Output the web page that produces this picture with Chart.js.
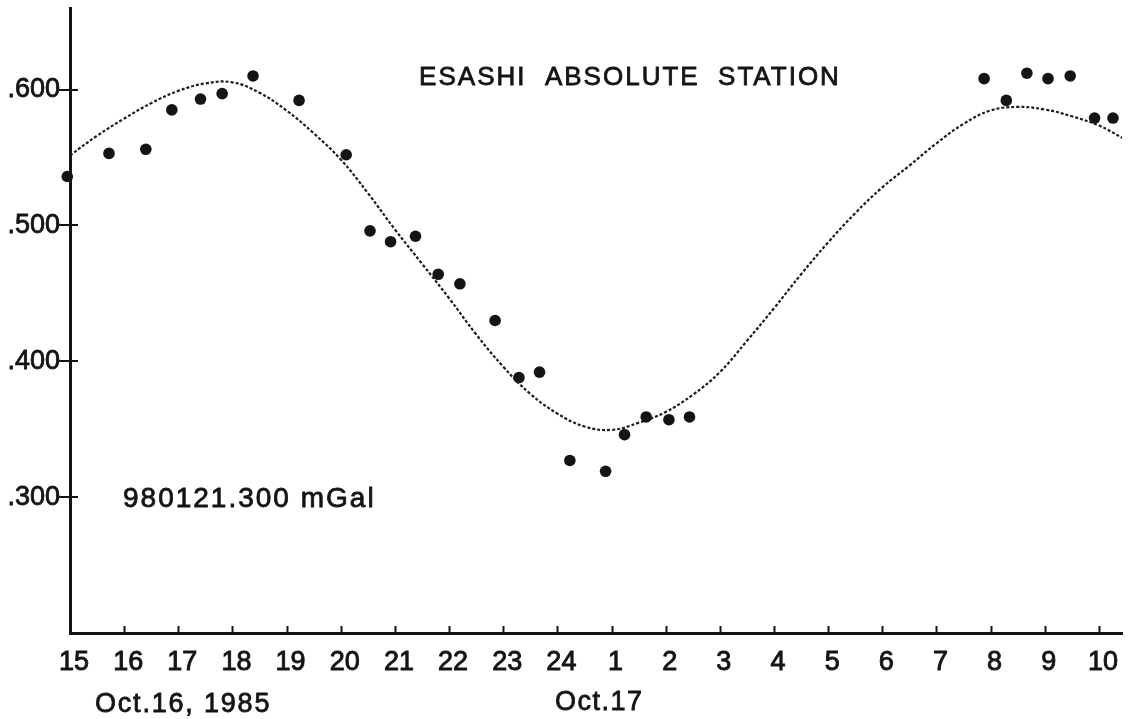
<!DOCTYPE html>
<html>
<head>
<meta charset="utf-8">
<title>Esashi absolute station</title>
<script src="https://cdn.jsdelivr.net/npm/chart.js@4.4.1/dist/chart.umd.min.js"></script>
<style>
    body { margin: 0; background: #fff; }
    #wrap { width: 1128px; height: 719px; }
</style>
</head>
<body>
<div id="wrap"><canvas id="gravChart" width="1128" height="719"></canvas></div>
<script>
/* hours counted from 15h Oct.16 (25 = 1h Oct.17) */
const obsHours = [14.95, 15.72, 16.40, 16.88, 17.41, 17.81, 18.38, 19.23, 20.10, 20.54, 20.92, 21.38, 21.80, 22.20, 22.85,
                  23.29, 23.67, 24.23, 24.89, 25.24, 25.64, 26.06, 26.44, 31.88, 32.29, 32.67, 33.06, 33.47, 33.92, 34.26];
const obsGal   = [0.536, 0.553, 0.556, 0.585, 0.593, 0.597, 0.610, 0.592, 0.552, 0.496, 0.488, 0.492, 0.464, 0.457, 0.430,
                  0.388, 0.392, 0.327, 0.319, 0.346, 0.359, 0.357, 0.359, 0.608, 0.592, 0.612, 0.608, 0.610, 0.579, 0.579];

/* dotted tide curve, every half hour */
const curveHours = [15.0, 15.5, 16.0, 16.5, 17.0, 17.5, 18.0, 18.5, 19.0, 19.5, 20.0, 20.5, 21.0, 21.5, 22.0,
                    22.5, 23.0, 23.5, 24.0, 24.5, 25.0, 25.5, 26.0, 26.5, 27.0, 27.5, 28.0, 28.5, 29.0,
                    29.5, 30.0, 30.5, 31.0, 31.5, 32.0, 32.5, 33.0, 33.5, 34.0, 34.43];
const curveGal   = [0.5515, 0.566, 0.5786, 0.590, 0.599, 0.6045, 0.6053, 0.5976, 0.5845, 0.5678, 0.5485, 0.5238, 0.497, 0.4718, 0.4464,
                    0.4198, 0.396, 0.376, 0.3615, 0.352, 0.3495, 0.3547, 0.3627, 0.3753, 0.392, 0.415, 0.439, 0.464, 0.4875,
                    0.509, 0.528, 0.544, 0.5604, 0.5747, 0.5846, 0.5872, 0.5853, 0.5803, 0.5735, 0.5645];

const xTicks = [15, 16, 17, 18, 19, 20, 21, 22, 23, 24, 25, 26, 27, 28, 29, 30, 31, 32, 33, 34];
const yTicks = [0.3, 0.4, 0.5, 0.6];

const INK = '#141414';
const FONT = '"Liberation Sans", Arial, sans-serif';

/* ── ticks pointing into the plot + free text ─────────────────── */
const decor = {
    id: 'decor',
    afterDraw(chart) {
        const ctx = chart.ctx;
        const xs = chart.scales.x, ys = chart.scales.y;
        const area = chart.chartArea;
        ctx.save();
        ctx.strokeStyle = INK;
        ctx.lineWidth = 2;
        xs.ticks.forEach(t => {
            if (t.value === 15) return;
            const px = Math.round(xs.getPixelForValue(t.value)) + 0.5;
            ctx.beginPath();
            ctx.moveTo(px, area.bottom);
            ctx.lineTo(px, area.bottom - 7);
            ctx.stroke();
        });
        ys.ticks.forEach(t => {
            const py = Math.round(ys.getPixelForValue(t.value));
            ctx.beginPath();
            ctx.moveTo(area.left - 12, py);
            ctx.lineTo(area.left + 8, py);
            ctx.stroke();
        });

        const write = (txt, x, y, size, spacing) => {
            ctx.font = size + 'px ' + FONT;
            ctx.letterSpacing = spacing + 'px';
            ctx.fillText(txt, x, y);
            ctx.strokeText(txt, x, y);
        };
        ctx.fillStyle = INK;
        ctx.lineWidth = 0.8;
        ctx.textBaseline = 'middle';
        ctx.textAlign = 'center';
        write('ESASHI  ABSOLUTE  STATION', 630, 78, 26, 2.0);
        ctx.textAlign = 'left';
        write('980121.300 mGal', 123, 499, 28, 2);
        write('Oct.16, 1985', 95, 705, 27, 1.8);
        write('Oct.17', 555, 703, 27, 1.5);
        ctx.restore();
    }
};

document.addEventListener('DOMContentLoaded', function () {
    const ctx = document.getElementById('gravChart');
    new Chart(ctx.getContext('2d'), {
        type: 'scatter',
        data: {
            datasets: [
                {
                    type: 'line',
                    label: 'tide',
                    data: curveHours.map((h, i) => ({ x: h, y: curveGal[i] })),
                    borderColor: '#1c1c1c',
                    borderWidth: 2.2,
                    borderDash: [3, 2],
                    pointRadius: 0,
                    fill: false,
                    tension: 0.4,
                },
                {
                    label: 'observed',
                    data: obsHours.map((h, i) => ({ x: h, y: obsGal[i] })),
                    backgroundColor: INK,
                    borderWidth: 0,
                    pointRadius: 5.8,
                    clip: false,
                }
            ]
        },
        options: {
            responsive: false,
            animation: false,
            layout: { padding: { top: 8, right: 0, left: 0, bottom: 0 } },
            plugins: {
                legend: { display: false },
                tooltip: { enabled: false }
            },
            scales: {
                x: {
                    type: 'linear',
                    min: 15,
                    max: 34.43,
                    afterBuildTicks: axis => { axis.ticks = xTicks.map(v => ({ value: v })); },
                    afterFit: s => { s.height = 86; s.paddingLeft = 0; s.paddingRight = 0; },
                    grid: { display: false, drawTicks: false },
                    border: { display: true, width: 3, color: INK },
                    ticks: {
                        autoSkip: false,
                        maxRotation: 0,
                        padding: 13,
                        labelOffset: 4,
                        color: INK,
                        textStrokeColor: INK,
                        textStrokeWidth: 0.9,
                        font: { family: FONT, size: 27 },
                        callback: v => (v > 24 ? v - 24 : v)
                    }
                },
                y: {
                    min: 0.2,
                    max: 0.66,
                    afterBuildTicks: axis => { axis.ticks = yTicks.map(v => ({ value: v })); },
                    afterFit: s => { s.width = 70; s.paddingTop = 0; s.paddingBottom = 0; },
                    grid: { display: false, drawTicks: false },
                    border: { display: true, width: 3, color: INK },
                    ticks: {
                        padding: 10,
                        color: INK,
                        textStrokeColor: INK,
                        textStrokeWidth: 0.8,
                        font: { family: FONT, size: 27 },
                        callback: v => '.' + Math.round(v * 1000)
                    }
                }
            }
        },
        plugins: [decor]
    });
});
</script>
</body>
</html>
